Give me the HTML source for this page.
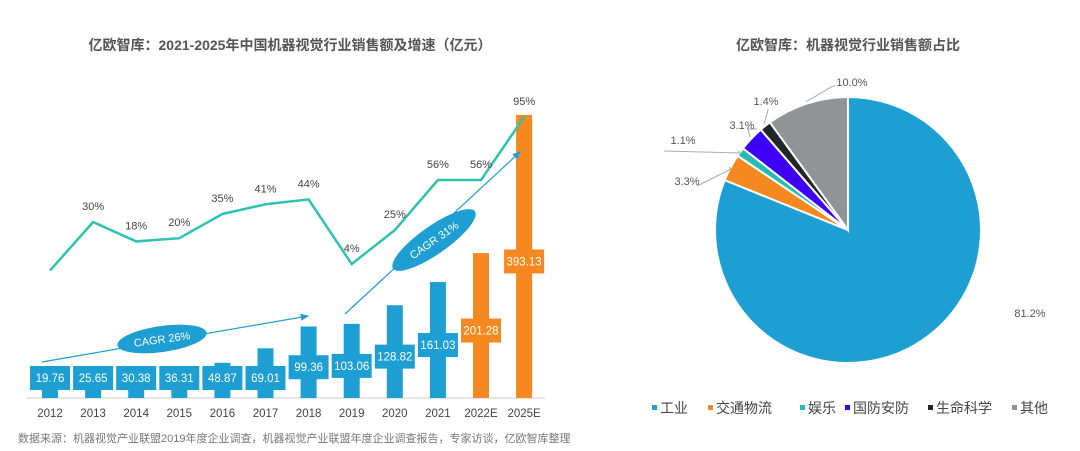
<!DOCTYPE html>
<html><head><meta charset="utf-8">
<style>
body{margin:0;background:#fff;width:1080px;height:451px;overflow:hidden;font-family:"Liberation Sans","Noto Sans CJK SC",sans-serif;}
svg{display:block}
</style></head>
<body>
<svg id="c" width="1080" height="451" xmlns="http://www.w3.org/2000/svg">
<text x="290" y="50" text-anchor="middle" font-size="14" font-weight="bold" fill="#555">亿欧智库：2021-2025年中国机器视觉行业销售额及增速（亿元）</text>
<text x="848" y="50" text-anchor="middle" font-size="14" font-weight="bold" fill="#555">亿欧智库：机器视觉行业销售额占比</text>
<line x1="27" y1="398" x2="545" y2="398" stroke="#ddd" stroke-width="1.5"/>
<g id="bars"></g><g id="line"></g><g id="anno"></g><g id="pie"></g><g id="legend"></g>
<text x="18" y="442" font-size="11" fill="#777">数据来源：机器视觉产业联盟2019年度企业调查，机器视觉产业联盟年度企业调查报告，专家访谈，亿欧智库整理</text>
</svg>
<script>
const categories=["2012","2013","2014","2015","2016","2017","2018","2019","2020","2021","2022E","2025E"];
const sales=[19.76,25.65,30.38,36.31,48.87,69.01,99.36,103.06,128.82,161.03,201.28,393.13];
const growth=[0,30,18,20,35,41,44,4,25,56,56,95];
const growthLabels=["","30%","18%","20%","35%","41%","44%","4%","25%","56%","56%","95%"];
const pieNames=["工业","交通物流","娱乐","国防安防","生命科学","其他"];
const pieValues=[81.2,3.3,1.1,3.1,1.4,10.0];
const pieColors=["#1e9fd3","#f5891f","#22bcb5","#3d00f5","#222629","#919496"];
const NS="http://www.w3.org/2000/svg";
function mk(p,t,a){const e=document.createElementNS(NS,t);for(const k in a)e.setAttribute(k,a[k]);p.appendChild(e);return e;}
const xS=i=>50+i*43.1;
const yB=v=>398-v*0.72;
const yL=v=>270.5-v*1.615;
const gb=document.getElementById('bars');
sales.forEach((v,i)=>{
  const col=i>=10?"#f5891f":"#1e9fd3";const x=xS(i);const top=yB(v);
  const r=mk(gb,'rect',{x:x-8,y:top,width:16,height:398-top,fill:col});
  
  
  const cy=Math.min(378,(top+398)/2+5);
  const b=mk(gb,'rect',{x:x-20,y:cy-12,width:40,height:24,fill:col});
  
  
  const t=mk(gb,'text',{x:x,y:cy+4,'text-anchor':'middle','font-size':11.5,fill:'#fff'});t.textContent=v.toFixed(2);
  
  
  const xl=mk(gb,'text',{x:x,y:417,'text-anchor':'middle','font-size':11.5,fill:'#444'});xl.textContent=categories[i];
  
  
});
const gl=document.getElementById('line');
const pl=mk(gl,'polyline',{points:growth.map((v,i)=>xS(i)+','+yL(v)).join(' '),fill:'none',stroke:'#2ec2b1','stroke-width':2.5});


growth.forEach((v,i)=>{if(!growthLabels[i])return;
  const t=mk(gl,'text',{x:xS(i),y:yL(v)-12,'text-anchor':'middle','font-size':11,fill:'#444'});t.textContent=growthLabels[i];
  
  
});
const ga=document.getElementById('anno');
const defs=mk(ga,'defs',{});const m=mk(defs,'marker',{id:'ah',markerWidth:8,markerHeight:8,refX:6,refY:3,orient:'auto'});mk(m,'path',{d:'M0,0 L7,3 L0,6 z',fill:'#1e9fd3'});
const a1=mk(ga,'line',{x1:42,y1:362,x2:308,y2:316,stroke:'#1e9fd3','stroke-width':1.2,'marker-end':'url(#ah)'});

const a2=mk(ga,'line',{x1:345,y1:314,x2:520,y2:152,stroke:'#1e9fd3','stroke-width':1.2,'marker-end':'url(#ah)'});

const e1=mk(ga,'ellipse',{cx:162,cy:339,rx:45,ry:13,fill:'#1e9fd3',transform:'rotate(-8 162 339)'});

const t1=mk(ga,'text',{x:162,y:343,'text-anchor':'middle','font-size':11,fill:'#fff',transform:'rotate(-8 162 339)'});t1.textContent='CAGR 26%';

const e2=mk(ga,'ellipse',{cx:434,cy:240,rx:50,ry:14,fill:'#1e9fd3',transform:'rotate(-35 434 240)'});

const t2=mk(ga,'text',{x:434,y:244,'text-anchor':'middle','font-size':11,fill:'#fff',transform:'rotate(-35 434 240)'});t2.textContent='CAGR 31%';

// pie
const gp=document.getElementById('pie');const cx=848,cy=230,R=133;
const tot=pieValues.reduce((a,b)=>a+b,0);let ang=0;
const labelPos=[[1030,317],[687,185],[683,144],[742,129],[766,105],[852,86]];
const leaderEnd=[null,[[731,169],[697,186]],[[740,153],[664,151]],[[748,129],[757,129]],[[768,110],[768,109]],[[833,86],[835,86]]];
pieValues.forEach((v,i)=>{
  const a0=ang,a1=ang+v/tot*2*Math.PI;ang=a1;
  const p=(a)=>[cx+R*Math.sin(a),cy-R*Math.cos(a)];
  const [x0,y0]=p(a0),[x1,y1]=p(a1);
  const s=mk(gp,'path',{d:`M${cx},${cy} L${x0},${y0} A${R},${R} 0 ${a1-a0>Math.PI?1:0} 1 ${x1},${y1} Z`,fill:pieColors[i],stroke:'#fff','stroke-width':2});
  
  
  const am=(a0+a1)/2;const [lx,ly]=[cx+(R+2)*Math.sin(am),cy-(R+2)*Math.cos(am)];
  const [tx,ty]=labelPos[i];
  if(leaderEnd[i]){const [q1,q2]=leaderEnd[i];
    const ld=mk(gp,'polyline',{points:`${lx},${ly} ${q1[0]},${q1[1]} ${q2[0]},${q2[1]}`,fill:'none',stroke:'#aaa','stroke-width':1});
    }
  const t=mk(gp,'text',{x:tx,y:ty,'text-anchor':'middle','font-size':11,fill:'#555'});t.textContent=v.toFixed(1)+'%';
  
  
});
const lg=document.getElementById('legend');
const lx=[652,708,800,845,928,1012];
pieNames.forEach((n,i)=>{
  const g=mk(lg,'g',{});
  
  
  mk(g,'rect',{x:lx[i],y:405,width:5,height:5,fill:pieColors[i]});
  const t=mk(g,'text',{x:lx[i]+8,y:413,'font-size':14,fill:'#444'});t.textContent=n;
});
</script>
</body></html>
